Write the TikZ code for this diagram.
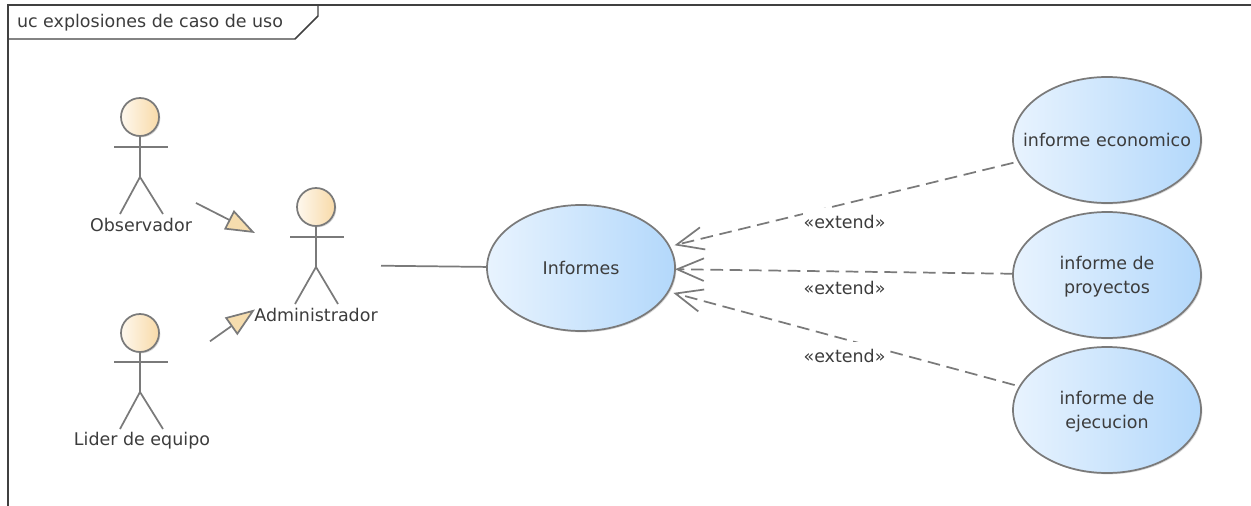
\documentclass[tikz,border=0pt]{standalone}
\usepackage{fontspec}
\setmainfont{DejaVu Sans}
\usepackage{tikz}
\usetikzlibrary{arrows.meta,shapes.geometric,shadows}
\definecolor{linegray}{HTML}{7A7A7A}
\definecolor{framegray}{HTML}{404040}
\definecolor{textgray}{HTML}{3C3C3C}
\definecolor{headleft}{HTML}{FEF8EE}
\definecolor{headright}{HTML}{F8DAA8}
\definecolor{caseleft}{HTML}{E8F3FE}
\definecolor{caseright}{HTML}{B3D8FB}
\definecolor{trifill}{HTML}{F6DDAE}

\begin{document}
\begin{tikzpicture}[x=0.75pt,y=-0.75pt,every node/.style={outer sep=0pt,inner sep=0pt,text=textgray,font=\fontsize{13.1}{18}\selectfont}]
\tikzstyle{head}=[circle,draw=linegray,line width=1.3pt,minimum size=28.5pt,left color=headleft,right color=headright,drop shadow={opacity=0.3,shadow xshift=1pt,shadow yshift=-1pt}]
\tikzstyle{stick}=[draw=linegray,line width=1.3pt]
\tikzstyle{usecase}=[ellipse,draw=linegray,line width=1.3pt,minimum width=141pt,minimum height=94.5pt,left color=caseleft,right color=caseright,drop shadow={opacity=0.3,shadow xshift=1pt,shadow yshift=-1pt}]
\tikzstyle{gener}=[draw=linegray,line width=1.3pt,-{Triangle[open,fill=trifill,length=22pt,width=16pt]}]
\tikzstyle{extend}=[draw=linegray,line width=1.3pt,dash pattern=on 9.5pt off 5pt,-{Straight Barb[length=20pt,width=17pt]}]
\tikzstyle{extlabel}=[fill=white,minimum width=62pt,minimum height=21pt]

\useasboundingbox (0,0) rectangle (1251,506);

% frame
\draw [framegray,line width=1.1pt] (8,506) -- (8,5) -- (1251,5);
\draw [framegray,line width=1.1pt] (8,39) -- (295,39) -- (318,16) -- (318,5);
\node (frame_text) at (17,23) [anchor=west] {uc explosiones de caso de uso};

% actors
\node (obs_head) at (140,117) [head] {};
\draw [stick] (obs_head.south) -- (140,177) -- (120,214);
\draw [stick] (140,177) -- (163,214);
\draw [stick] (114,147) -- (168,147);
\node (obs_text) at (141,225) {Observador};
\node (obs_node) at (141,175) [minimum width=82.5pt,minimum height=100pt] {};

\node (adm_head) at (316,207) [head] {};
\draw [stick] (adm_head.south) -- (316,267) -- (295,304);
\draw [stick] (316,267) -- (338,304);
\draw [stick] (290,237) -- (344,237);
\node (adm_text) at (316,315) {Administrador};
\node (adm_node) at (318,265) [minimum width=94.5pt,minimum height=100pt] {};

\node (lid_head) at (140,333) [head] {};
\draw [stick] (lid_head.south) -- (140,392) -- (120,429);
\draw [stick] (140,392) -- (163,429);
\draw [stick] (114,362) -- (168,362);
\node (lid_text) at (142,441) {Lider de equipo};
\node (lid_node) at (141,390) [minimum width=103.5pt,minimum height=100pt] {};

% use cases
\node (inf_node) at (581,268) [usecase] {};
\node (inf_text) at (inf_node) {Informes};
\node (eco_node) at (1107,140) [usecase] {};
\node (eco_text) at (eco_node) {informe economico};
\node (pro_node) at (1107,275) [usecase] {};
\node (pro_text) at (pro_node) [align=center,yshift=-1.5pt] {informe de\\proyectos};
\node (eje_node) at (1107,410) [usecase] {};
\node (eje_text) at (eje_node) [align=center,yshift=-1.5pt] {informe de\\ejecucion};

% connectors
\draw [gener] (obs_node) -- (adm_node);
\draw [gener] (lid_node) -- (adm_node);
\draw [stick] (adm_node) -- (inf_node);
\draw [extend,shorten <=4pt,shorten >=4pt] (eco_node) -- (inf_node);
\draw [extend] (pro_node) -- (inf_node);
\draw [extend,shorten <=4pt,shorten >=4pt] (eje_node) -- (inf_node);

\node (ext1_label) at (844.5,222) [extlabel] {«extend»};
\node (ext2_label) at (844.5,288) [extlabel] {«extend»};
\node (ext3_label) at (844.5,356) [extlabel] {«extend»};

\end{tikzpicture}
\end{document}
